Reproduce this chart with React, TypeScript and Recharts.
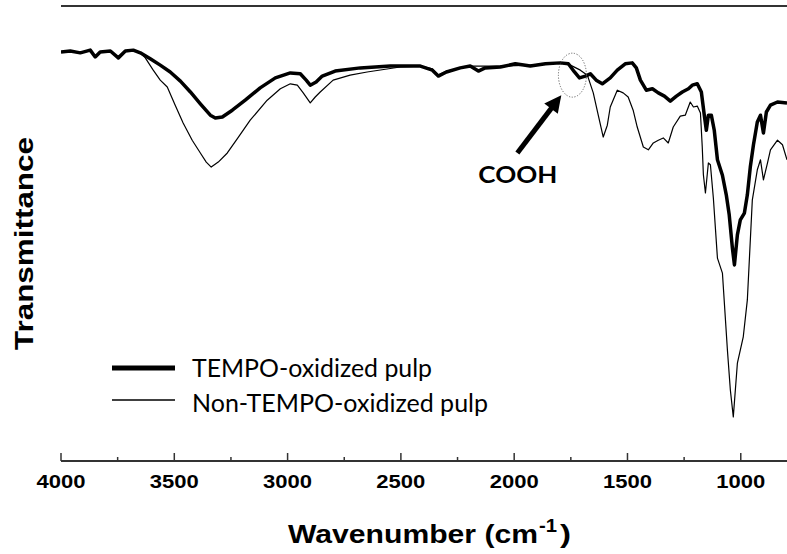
import React from 'react';
import { LineChart, Line, XAxis, YAxis, ReferenceLine, ReferenceDot, Legend } from 'recharts';

// TEMPO-oxidized pulp (thick)
const tempoWavenumber = [4000, 3959, 3915, 3871, 3849, 3827, 3782, 3747, 3716, 3681, 3650, 3606, 3562, 3518, 3473, 3429, 3385, 3341, 3319, 3288, 3244, 3187, 3121, 3054, 2988, 2944, 2918, 2900, 2874, 2847, 2790, 2679, 2547, 2414, 2361, 2335, 2299, 2238, 2194, 2158, 2128, 2061, 1995, 1929, 1862, 1796, 1761, 1734, 1712, 1686, 1664, 1638, 1611, 1576, 1545, 1510, 1479, 1461, 1443, 1417, 1390, 1364, 1337, 1311, 1284, 1258, 1231, 1214, 1192, 1174, 1161, 1152, 1143, 1130, 1117, 1103, 1081, 1064, 1051, 1037, 1028, 1015, 1002, 984, 971, 958, 944, 927, 913, 900, 887, 869, 838, 796];
const tempoTransmittance = [89.9, 90.1, 89.7, 90.3, 88.8, 89.9, 90.1, 88.6, 90.1, 90.3, 89.7, 88.4, 87.0, 85.5, 83.5, 81.1, 78.5, 76.0, 75.4, 75.6, 77.1, 79.3, 82.0, 84.2, 85.3, 85.1, 83.7, 82.6, 83.3, 84.6, 85.7, 86.4, 86.8, 86.8, 85.9, 84.6, 85.5, 86.4, 86.8, 85.7, 86.4, 86.6, 87.3, 86.8, 87.3, 87.5, 87.3, 85.5, 84.2, 84.6, 85.1, 83.7, 82.9, 84.2, 85.9, 87.3, 87.5, 86.4, 83.7, 81.5, 81.8, 80.9, 80.2, 79.1, 80.2, 81.1, 81.8, 82.6, 82.9, 81.1, 76.0, 72.7, 76.0, 76.0, 72.7, 66.2, 62.8, 58.5, 54.1, 46.8, 43.1, 49.7, 53.0, 54.5, 58.5, 64.6, 69.5, 74.5, 76.0, 72.1, 76.7, 78.2, 78.9, 78.7];

// Non-TEMPO-oxidized pulp (thin)
const nonTempoWavenumber = [4000, 3959, 3915, 3871, 3849, 3827, 3782, 3747, 3716, 3681, 3650, 3628, 3593, 3562, 3531, 3496, 3461, 3421, 3385, 3359, 3337, 3306, 3266, 3217, 3165, 3090, 3032, 2988, 2957, 2931, 2900, 2878, 2856, 2799, 2724, 2649, 2503, 2414, 2361, 2335, 2299, 2194, 2061, 1929, 1796, 1752, 1708, 1677, 1651, 1629, 1607, 1589, 1576, 1545, 1519, 1497, 1475, 1457, 1430, 1408, 1386, 1364, 1342, 1320, 1298, 1267, 1245, 1223, 1209, 1192, 1178, 1170, 1165, 1156, 1143, 1134, 1121, 1103, 1081, 1059, 1046, 1033, 1015, 989, 971, 949, 927, 913, 900, 882, 869, 838, 816, 796];
const nonTempoTransmittance = [89.9, 90.1, 89.7, 90.3, 88.8, 89.9, 90.1, 88.6, 90.1, 90.3, 89.7, 88.6, 85.9, 83.7, 82.2, 78.2, 74.3, 70.5, 67.7, 65.7, 64.6, 65.7, 67.7, 71.2, 74.9, 79.3, 81.8, 82.9, 82.6, 80.9, 78.7, 80.0, 81.1, 83.7, 84.8, 85.5, 86.6, 86.8, 86.2, 84.8, 85.7, 86.8, 86.8, 87.0, 87.5, 87.0, 85.9, 84.8, 80.9, 76.0, 71.2, 73.8, 77.8, 81.5, 80.9, 80.0, 77.1, 73.4, 69.0, 68.4, 69.9, 70.5, 71.0, 69.9, 73.4, 75.8, 76.0, 78.9, 77.8, 78.0, 76.5, 69.0, 62.9, 58.9, 65.5, 65.1, 57.8, 44.6, 41.3, 24.4, 15.6, 9.7, 21.5, 27.3, 35.4, 57.4, 64.0, 66.2, 61.8, 65.5, 68.4, 70.5, 69.5, 66.2];

const seriesNames = ['TEMPO-oxidized pulp', 'Non-TEMPO-oxidized pulp'];
const tickValues = [4000, 3750, 3500, 3250, 3000, 2750, 2500, 2250, 2000, 1750, 1500, 1250, 1000];
const xDomain = [796, 4000];
const yDomain = [0, 100];
const annotationLabel = 'COOH';
const arrowFrom = { wn: 1986, t: 67.7 };
const arrowTo = { wn: 1792, t: 80.4 };
const circleAt = { wn: 1743, t: 84.8 };

const tempoData = tempoWavenumber.map((wn, i) => ({ wn, t: tempoTransmittance[i] }));
const nonTempoData = nonTempoWavenumber.map((wn, i) => ({ wn, t: nonTempoTransmittance[i] }));

const AXIS = '#333';

function WaveTick(props: any) {
  const { x, y, payload } = props;
  const v = payload.value;
  const major = v % 500 === 0;
  return (
    <g>
      <line x1={x} x2={x} y1={y} y2={y - (major ? 8 : 4)} stroke={AXIS} strokeWidth={1.5} />
      {major && (
        <text x={x} y={y + 27} textAnchor="middle" fontFamily="'Liberation Sans', Arial, sans-serif"
          fontWeight="bold" fontSize={18} fill="#000" textLength={49} lengthAdjust="spacingAndGlyphs">
          {String(v)}
        </text>
      )}
    </g>
  );
}

function ArrowShape(props: any) {
  const { x1, y1, x2, y2 } = props;
  if ([x1, y1, x2, y2].some((v) => typeof v !== 'number' || isNaN(v))) return null;
  const dx = x2 - x1;
  const dy = y2 - y1;
  const len = Math.sqrt(dx * dx + dy * dy);
  const ux = dx / len;
  const uy = dy / len;
  const hl = 17;
  const hw = 8.5;
  const bx = x2 - ux * hl;
  const by = y2 - uy * hl;
  const px = -uy;
  const py = ux;
  return (
    <g>
      <line x1={x1} y1={y1} x2={bx + ux * 2} y2={by + uy * 2} stroke="#000" strokeWidth={5} />
      <polygon points={`${x2},${y2} ${bx + px * hw},${by + py * hw} ${bx - px * hw},${by - py * hw}`} fill="#000" />
      <text x={x1 + 0.5} y={y1 + 30} textAnchor="middle" fontFamily="Lato, 'Open Sans', sans-serif" fontWeight="bold"
        fontSize={22} fill="#000" textLength={79} lengthAdjust="spacingAndGlyphs">
        {annotationLabel}
      </text>
    </g>
  );
}

function EllipseShape(props: any) {
  const { cx, cy } = props;
  return <ellipse cx={cx} cy={cy} rx={14} ry={22} fill="none" stroke="#666" strokeWidth={1} strokeDasharray="1.2 1.6" />;
}

function LegendContent(props: any) {
  const widths = [240, 296];
  const strokes = [5, 1.3];
  const entries = ((props.payload || []) as any[]).slice().sort(
    (a, b) => seriesNames.indexOf(a.value) - seriesNames.indexOf(b.value)
  );
  return (
    <svg width={420} height={80} style={{ display: 'block' }}>
      {entries.map((e, i) => {
        const yLine = 23 + i * 32;
        return (
          <g key={i}>
            <line x1={12} x2={75} y1={yLine} y2={yLine} stroke="#000" strokeWidth={strokes[i]} />
            <text x={92} y={yLine + 9 + (i === 0 ? 0 : 3)} fontFamily="Lato, 'Open Sans', sans-serif" fontSize={25} fill="#000"
              textLength={widths[i]} lengthAdjust="spacingAndGlyphs">
              {e.value}
            </text>
          </g>
        );
      })}
    </svg>
  );
}

export default function App() {
  return (
    <div style={{ position: 'absolute', left: 0, top: 0, width: 787, height: 554, background: '#fff' }}>
      <LineChart width={787} height={554} margin={{ top: 6, right: 0, bottom: 63, left: 61 }}>
        <XAxis type="number" dataKey="wn" domain={xDomain} reversed allowDataOverflow ticks={tickValues} interval={0}
          tick={<WaveTick />} tickLine={false} tickSize={0} tickMargin={0} height={30}
          axisLine={{ stroke: AXIS, strokeWidth: 2 }} />
        <YAxis type="number" domain={yDomain} width={0} tick={false} tickLine={false}
          axisLine={{ stroke: AXIS, strokeWidth: 2 }} allowDataOverflow />
        <ReferenceLine y={100} stroke={AXIS} strokeWidth={2} />
        <Legend verticalAlign="middle" align="center" layout="horizontal" content={<LegendContent />}
          wrapperStyle={{ position: 'absolute', left: 100, top: 345, width: 420, height: 80 }} />
        <Line data={tempoData} dataKey="t" name={seriesNames[0]} type="linear" stroke="#000" strokeWidth={3.5}
          dot={false} isAnimationActive={false} strokeLinejoin="round" />
        <Line data={nonTempoData} dataKey="t" name={seriesNames[1]} type="linear" stroke="#000" strokeWidth={1.2}
          dot={false} isAnimationActive={false} strokeLinejoin="round" />
        <ReferenceDot x={circleAt.wn} y={circleAt.t} shape={<EllipseShape />} />
        <ReferenceLine segment={[{ x: arrowFrom.wn, y: arrowFrom.t }, { x: arrowTo.wn, y: arrowTo.t }]}
          shape={(p: any) => <ArrowShape {...p} />} />
      </LineChart>
      <svg width={787} height={554} style={{ position: 'absolute', left: 0, top: 0, pointerEvents: 'none' }}>
        <text transform="translate(33,243.5) rotate(-90)" textAnchor="middle" fontFamily="'Liberation Sans', Arial, sans-serif"
          fontWeight="bold" fontSize={25} fill="#000" textLength={213} lengthAdjust="spacingAndGlyphs">
          Transmittance
        </text>
        <text x={288} y={543} fontFamily="'Liberation Sans', Arial, sans-serif" fontWeight="bold" fontSize={25} fill="#000"
          textLength={250} lengthAdjust="spacingAndGlyphs">
          Wavenumber (cm
        </text>
        <text x={539} y={532} fontFamily="'Liberation Sans', Arial, sans-serif" fontWeight="bold" fontSize={18} fill="#000"
          textLength={18} lengthAdjust="spacingAndGlyphs">
          -1
        </text>
        <text x={560} y={543} fontFamily="'Liberation Sans', Arial, sans-serif" fontWeight="bold" fontSize={25} fill="#000"
          textLength={11} lengthAdjust="spacingAndGlyphs">
          )
        </text>
      </svg>
    </div>
  );
}
